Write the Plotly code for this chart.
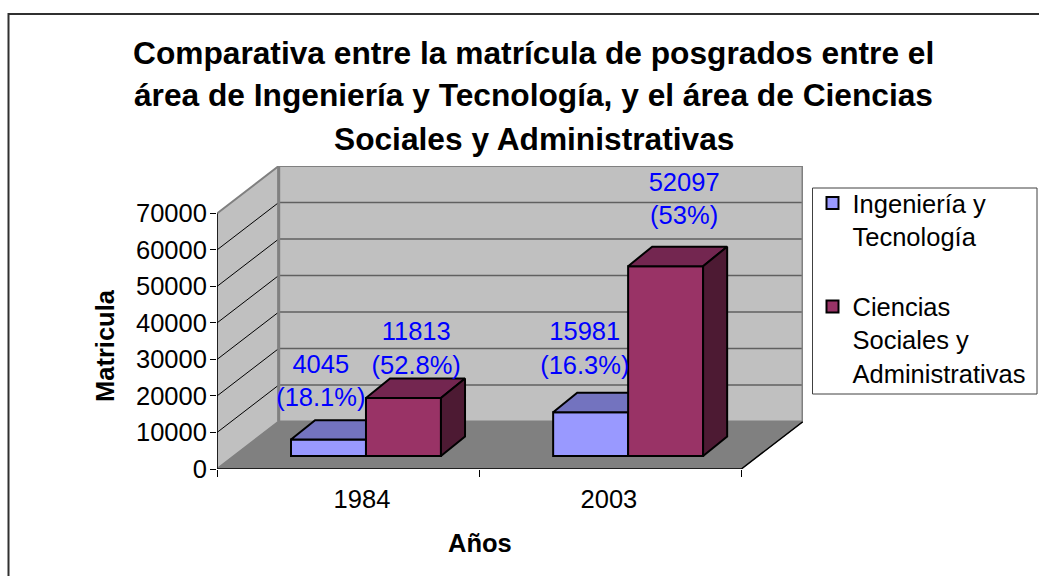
import plotly.graph_objects as go

# ---- data ----
categories = ["1984", "2003"]
series_names = ["Ingeniería y<br>Tecnología", "Ciencias<br>Sociales y<br>Administrativas"]
ingenieria = [4500, 12000]
ciencias = [15900, 52000]
value_labels = ["4045", "11813", "15981", "52097"]
percent_labels = ["(18.1%)", "(52.8%)", "(16.3%)", "(53%)"]
y_ticks = [0, 10000, 20000, 30000, 40000, 50000, 60000, 70000]
title_lines = [
    "Comparativa entre la matrícula de posgrados entre el",
    "área de Ingeniería y Tecnología, y el área de Ciencias",
    "Sociales y Administrativas",
]

# ---- projection of the fake 3D box, in axis units ----
DX, DY = 0.2354, 12988        # wall depth
BX, BY = 0.0918, 5330         # bar depth
OX, OY = 0.0683, 3555         # bar front offset from the floor front
BW = 0.286                    # bar width
YMAX = 70000
XR = [0, 2 + DX]
YR = [0, YMAX + DY]

FONT = "Liberation Sans, Arial, sans-serif"
FS = 25.5
BLUE, BLUE_TOP = "#9999FF", "#7373BF"
PURP, PURP_TOP, PURP_SIDE = "#993366", "#732650", "#4D1A33"
L, T, W, H = 217, 166, 586, 303


def px(x):
    return (x - L) / W


def py(y):
    return (T + H - y) / H


def poly(xs, ys, fill, line="black", width=2, xa="x", ya="y"):
    return go.Scatter(x=xs + xs[:1], y=ys + ys[:1], mode="lines", fill="toself",
                      fillcolor=fill, line=dict(color=line, width=width),
                      xaxis=xa, yaxis=ya, showlegend=False, hoverinfo="skip", cliponaxis=False)


def path(xs, ys, color, width):
    return go.Scatter(x=xs, y=ys, mode="lines", line=dict(color=color, width=width),
                      showlegend=False, hoverinfo="skip", cliponaxis=False)


fig = go.Figure()

# walls and floor
fig.add_trace(poly([0, DX, DX, 0], [0, DY, YMAX + DY, YMAX], "#C0C0C0", "#808080", 2))
fig.add_trace(poly([DX, 2 + DX, 2 + DX, DX], [DY, DY, YMAX + DY, YMAX + DY], "#C0C0C0", "#808080", 2))
fig.add_trace(poly([0, 2, 2 + DX, DX], [0, 0, DY, DY], "#808080", "#808080", 1))

grid_x, grid_y, side_x, side_y = [], [], [], []
for t in y_ticks[1:-1]:
    grid_x += [DX, 2 + DX, None]
    grid_y += [t + DY, t + DY, None]
for t in y_ticks[1:-1]:
    side_x += [0, DX, None]
    side_y += [t, t + DY, None]
fig.add_trace(path(grid_x, grid_y, "#606060", 1.5))
fig.add_trace(path(side_x, side_y, "#000000", 1))
fig.add_trace(path([0, 0], [0, YMAX], "#000000", 1.5))
fig.add_trace(path([0, 2, 2 + DX], [0, 0, DY], "#000000", 1.5))
fig.add_trace(path([DX, DX], [DY, YMAX + DY], "#808080", 3))
fig.add_trace(path([2 + DX, 2 + DX], [DY, YMAX + DY], "#808080", 3))


def bar_set(vals, side, name, front, top, xa, ya, with_side, group):
    xs = [i + 0.5 + side * BW / 2 + OX for i in range(len(vals))]
    fig.add_trace(go.Bar(x=xs, y=vals, base=[OY] * len(vals), width=BW, name=name,
                         marker=dict(color=front, line=dict(color="black", width=2)),
                         xaxis=xa, yaxis=ya, legendgroup=group, hoverinfo="skip"))
    for x, v in zip(xs, vals):
        l, r = x - BW / 2, x + BW / 2
        b, t = OY, OY + v
        fig.add_trace(poly([l, r, r + BX, l + BX], [t, t, t + BY, t + BY], top, xa=xa, ya=ya))
        if with_side:
            fig.add_trace(poly([r, r + BX, r + BX, r], [b, b + BY, t + BY, t], PURP_SIDE, xa=xa, ya=ya))


bar_set(ingenieria, -1, series_names[0], BLUE, BLUE_TOP, "x2", "y2", False, "a")
bar_set(ciencias, 1, series_names[1], PURP, PURP_TOP, "x3", "y3", True, "b")

# data labels (placed by hand in the original)
lab_x = [0.396, 0.760, 1.403, 1.782]
val_y = [28160, 37190, 37190, 77930]
pct_y = [18870, 27890, 27890, 68900]
for txt, ys in ((value_labels, val_y), (percent_labels, pct_y)):
    fig.add_trace(go.Scatter(x=lab_x, y=ys, text=txt, mode="text", textposition="middle center",
                             textfont=dict(family=FONT, size=FS, color="#0000FF"),
                             xaxis="x3", yaxis="y3", showlegend=False, hoverinfo="skip", cliponaxis=False))

# title, one annotation per line for the original's wide leading
annots = [dict(text=f"<b>{s}</b>", xref="paper", yref="paper", x=px(533.5), y=py(yy),
               xanchor="center", yanchor="middle", showarrow=False,
               font=dict(family=FONT, size=31.7, color="black"))
          for s, yy in zip(title_lines, [53, 95, 139])]
annots.append(dict(text="<b>Matricula</b>", xref="paper", yref="paper", x=px(105), y=py(345),
                   textangle=-90, xanchor="center", yanchor="middle", showarrow=False,
                   font=dict(family=FONT, size=FS, color="black")))
annots.append(dict(text="<b>Años</b>", xref="paper", yref="paper", x=px(480), y=py(543),
                   xanchor="center", yanchor="middle", showarrow=False,
                   font=dict(family=FONT, size=FS, color="black")))

fig.update_layout(
    width=1039, height=576, autosize=False,
    margin=dict(l=L, r=1039 - L - W, t=T, b=576 - T - H, pad=0, autoexpand=False),
    paper_bgcolor="white", plot_bgcolor="white",
    barmode="overlay",
    font=dict(family=FONT, size=FS, color="black"),
    annotations=annots,
    xaxis=dict(range=XR, tickmode="array", tickvals=[0.553, 1.495], ticktext=categories, ticks="",
               ticklabelstandoff=12, showgrid=False, zeroline=False, showline=False,
               tickfont=dict(size=FS),
               minor=dict(tickmode="array", tickvals=[0, 1, 2], ticks="outside", ticklen=7,
                          tickcolor="black", tickwidth=1, showgrid=False)),
    yaxis=dict(range=YR, tickmode="array", tickvals=y_ticks, ticktext=[str(t) for t in y_ticks],
               ticks="outside", ticklen=6, tickcolor="black", showgrid=False, zeroline=False,
               showline=False, tickfont=dict(size=FS), ticklabelstandoff=-2),
    xaxis2=dict(range=XR, overlaying="x", visible=False),
    yaxis2=dict(range=YR, overlaying="y", visible=False),
    xaxis3=dict(range=XR, overlaying="x", visible=False),
    yaxis3=dict(range=YR, overlaying="y", visible=False),
    legend=dict(x=px(812.5), y=py(180), xanchor="left", yanchor="top",
                borderwidth=0, bgcolor="rgba(0,0,0,0)", valign="top",
                font=dict(family=FONT, size=FS), tracegroupgap=34, itemsizing="constant",
                traceorder="grouped"),
    shapes=[dict(type="rect", xref="paper", yref="paper",
                 x0=px(8.5), x1=px(1100), y0=py(640), y1=py(14),
                 line=dict(color="#303030", width=2), layer="below"),
            dict(type="rect", xref="paper", yref="paper",
                 x0=px(812.5), x1=px(1037), y0=py(394), y1=py(188),
                 line=dict(color="#404040", width=1), fillcolor="white", layer="below")],
)

fig.write_html("out.html", config={"displayModeBar": False},
               post_script="document.body.style.margin='0';")
